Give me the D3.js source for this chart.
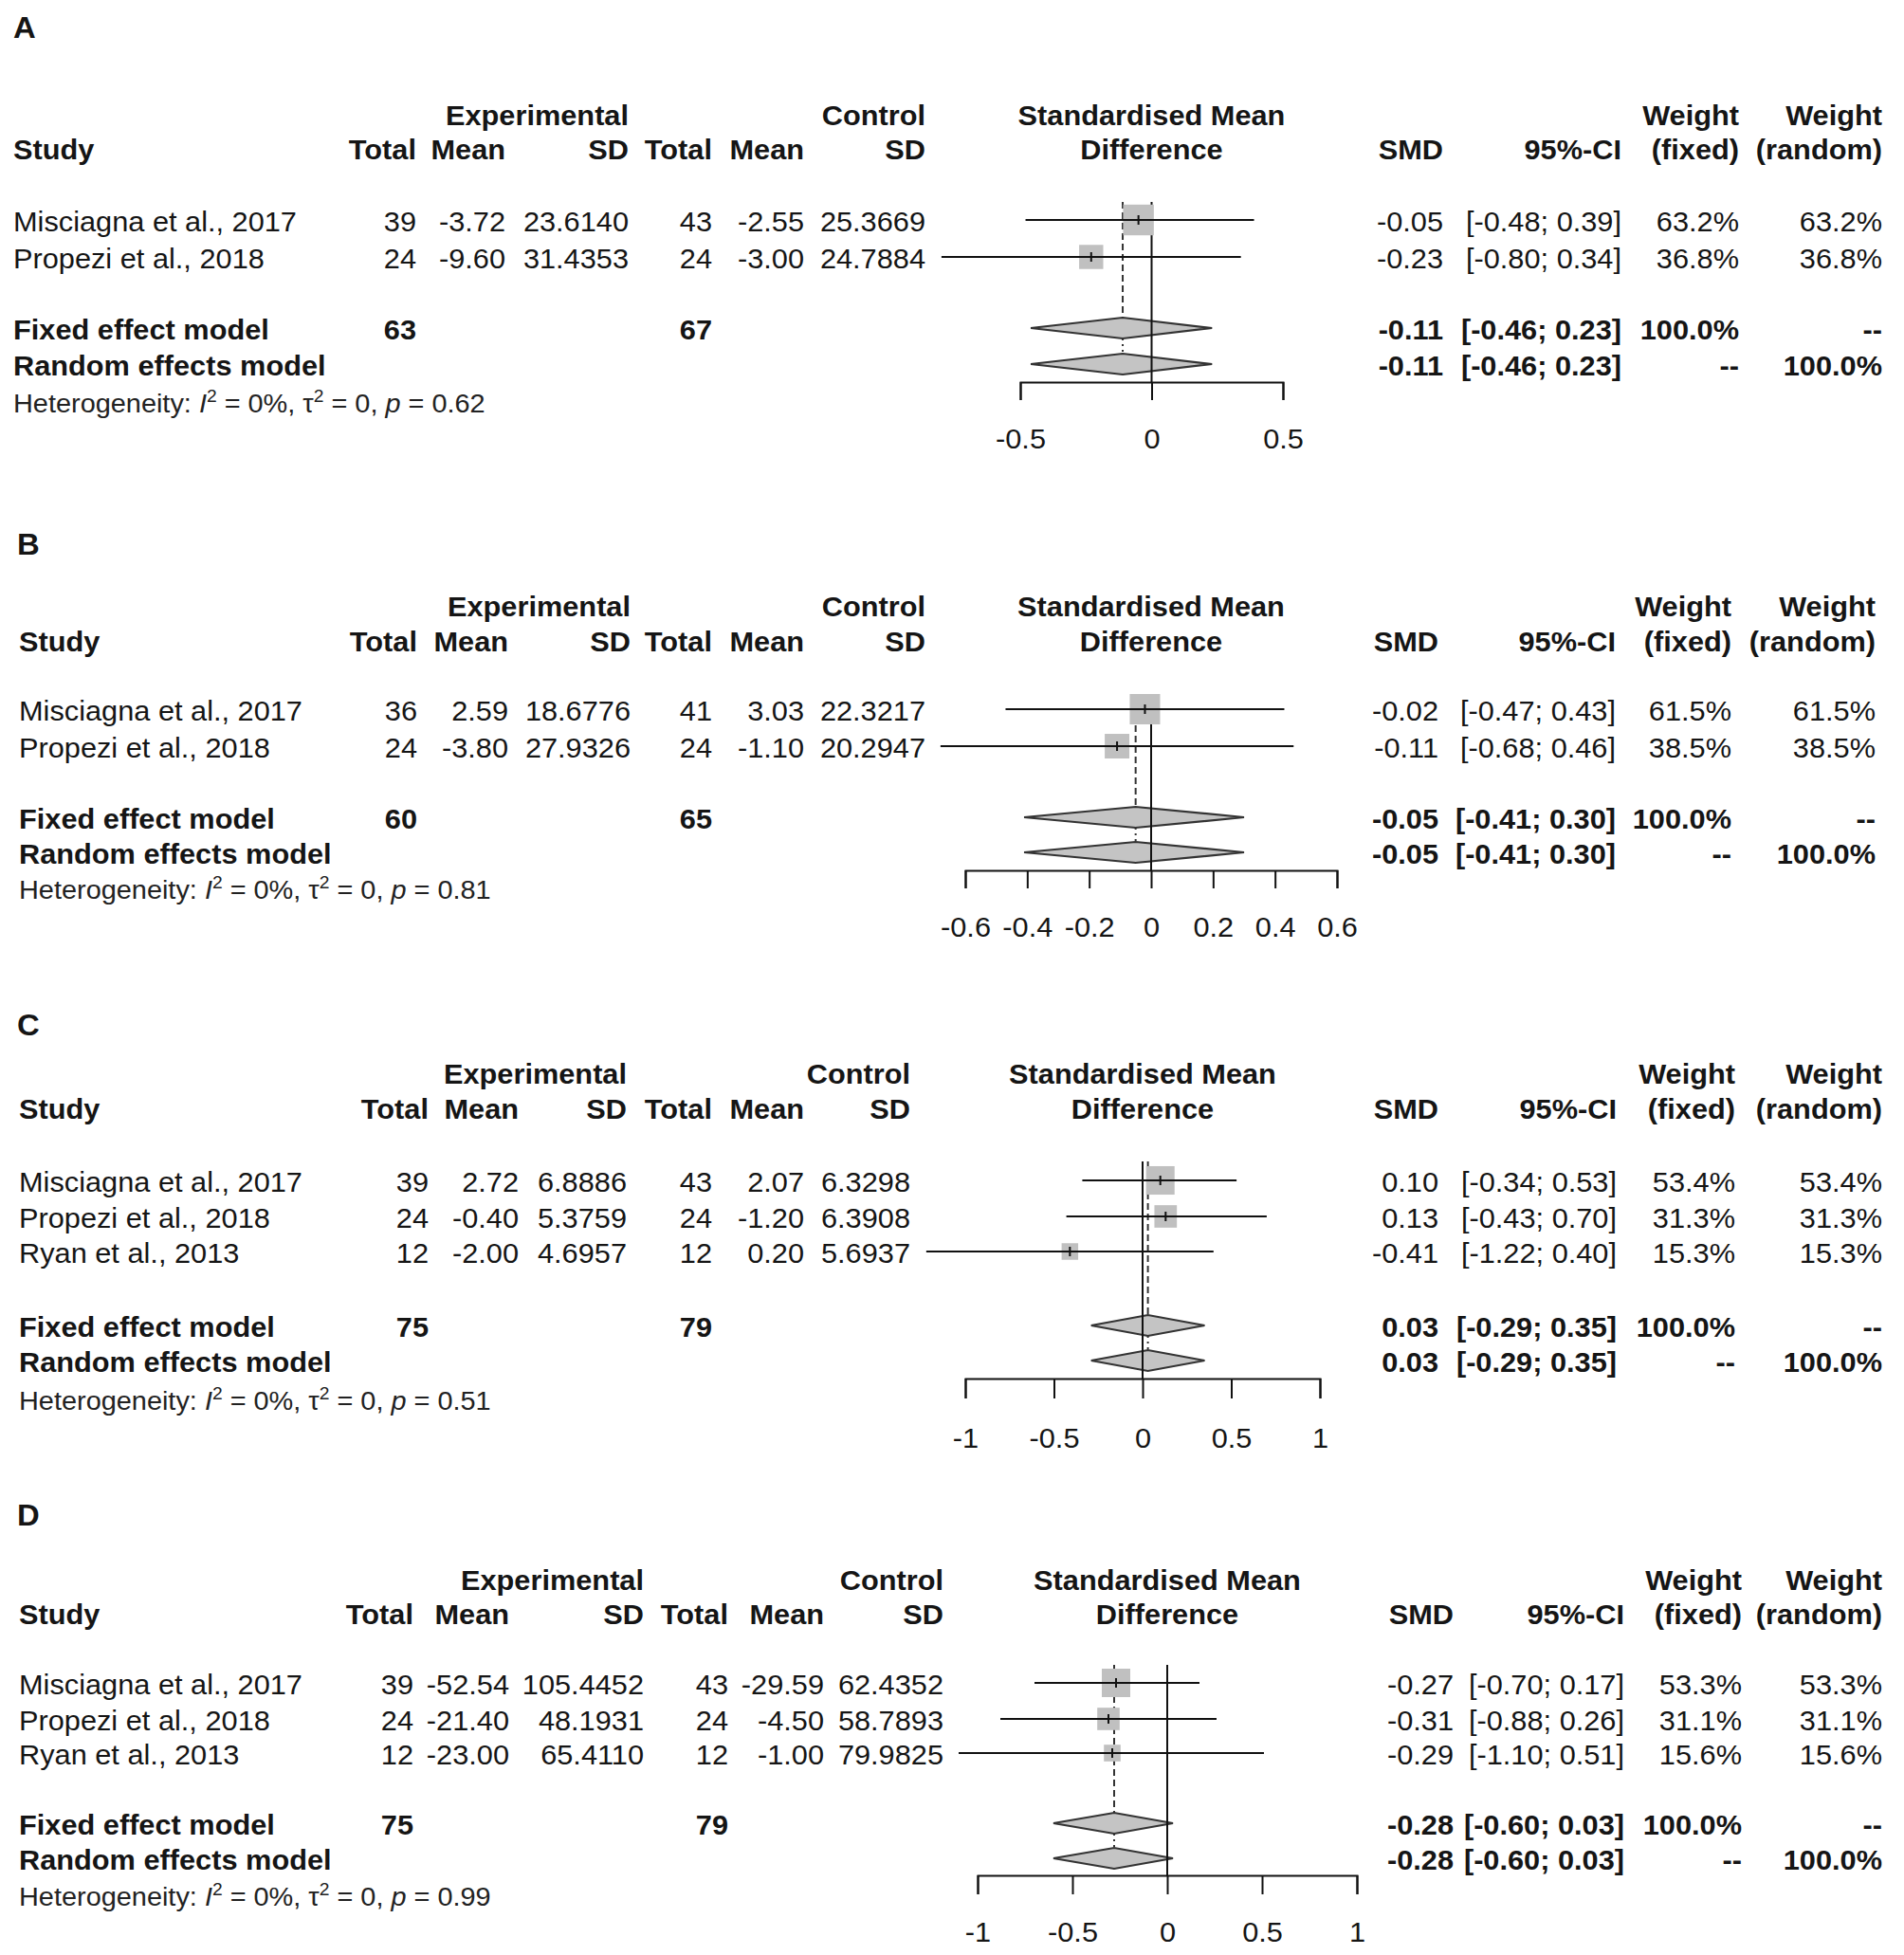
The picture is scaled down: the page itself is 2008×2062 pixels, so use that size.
<!DOCTYPE html>
<html><head><meta charset="utf-8">
<script src="https://cdn.jsdelivr.net/npm/d3@7"></script>
<style>html,body{margin:0;padding:0;background:#fff;} svg{display:block;}</style>
</head><body>
<svg id="chart" width="2008" height="2062"></svg>
<script>
// ================= DATA =================
const studies2 = ["Misciagna et al., 2017", "Propezi et al., 2018"];
const studies3 = ["Misciagna et al., 2017", "Propezi et al., 2018", "Ryan et al., 2013"];

// Panel A
const A_expTotal = [39, 24];
const A_expMean = [-3.72, -9.60];
const A_expSD = [23.6140, 31.4353];
const A_ctrlTotal = [43, 24];
const A_ctrlMean = [-2.55, -3.00];
const A_ctrlSD = [25.3669, 24.7884];
const A_smd = [-0.05, -0.23];
const A_ciLow = [-0.48, -0.80];
const A_ciHigh = [0.39, 0.34];
const A_wFixed = [63.2, 36.8];
const A_wRandom = [63.2, 36.8];
const A_pooled = [-0.11, -0.46, 0.23];
const A_totals = [63, 67];
const A_het = [0, 0, 0.62];
const A_ticks = [-0.5, 0, 0.5];
const A_domain = [-0.5, 0.5];

// Panel B
const B_expTotal = [36, 24];
const B_expMean = [2.59, -3.80];
const B_expSD = [18.6776, 27.9326];
const B_ctrlTotal = [41, 24];
const B_ctrlMean = [3.03, -1.10];
const B_ctrlSD = [22.3217, 20.2947];
const B_smd = [-0.02, -0.11];
const B_ciLow = [-0.47, -0.68];
const B_ciHigh = [0.43, 0.46];
const B_wFixed = [61.5, 38.5];
const B_wRandom = [61.5, 38.5];
const B_pooled = [-0.05, -0.41, 0.30];
const B_totals = [60, 65];
const B_het = [0, 0, 0.81];
const B_ticks = [-0.6, -0.4, -0.2, 0, 0.2, 0.4, 0.6];
const B_domain = [-0.6, 0.6];

// Panel C
const C_expTotal = [39, 24, 12];
const C_expMean = [2.72, -0.40, -2.00];
const C_expSD = [6.8886, 5.3759, 4.6957];
const C_ctrlTotal = [43, 24, 12];
const C_ctrlMean = [2.07, -1.20, 0.20];
const C_ctrlSD = [6.3298, 6.3908, 5.6937];
const C_smd = [0.10, 0.13, -0.41];
const C_ciLow = [-0.34, -0.43, -1.22];
const C_ciHigh = [0.53, 0.70, 0.40];
const C_wFixed = [53.4, 31.3, 15.3];
const C_wRandom = [53.4, 31.3, 15.3];
const C_pooled = [0.03, -0.29, 0.35];
const C_totals = [75, 79];
const C_het = [0, 0, 0.51];
const C_ticks = [-1, -0.5, 0, 0.5, 1];
const C_domain = [-1, 1];

// Panel D
const D_expTotal = [39, 24, 12];
const D_expMean = [-52.54, -21.40, -23.00];
const D_expSD = [105.4452, 48.1931, 65.4110];
const D_ctrlTotal = [43, 24, 12];
const D_ctrlMean = [-29.59, -4.50, -1.00];
const D_ctrlSD = [62.4352, 58.7893, 79.9825];
const D_smd = [-0.27, -0.31, -0.29];
const D_ciLow = [-0.70, -0.88, -1.10];
const D_ciHigh = [0.17, 0.26, 0.51];
const D_wFixed = [53.3, 31.1, 15.6];
const D_wRandom = [53.3, 31.1, 15.6];
const D_pooled = [-0.28, -0.60, 0.03];
const D_totals = [75, 79];
const D_het = [0, 0, 0.99];
const D_ticks = [-1, -0.5, 0, 0.5, 1];
const D_domain = [-1, 1];

// ================= ASSEMBLY =================
function mk(label, studies, eT, eM, eS, cT, cM, cS, smd, lo, hi, wF, wR, pooled, totals, het, ticks, domain) {
  return {label, studies, eT, eM, eS, cT, cM, cS, smd, lo, hi, wF, wR, pooled, totals, het, ticks, domain};
}
const panels = [
  mk("A", studies2, A_expTotal, A_expMean, A_expSD, A_ctrlTotal, A_ctrlMean, A_ctrlSD, A_smd, A_ciLow, A_ciHigh, A_wFixed, A_wRandom, A_pooled, A_totals, A_het, A_ticks, A_domain),
  mk("B", studies2, B_expTotal, B_expMean, B_expSD, B_ctrlTotal, B_ctrlMean, B_ctrlSD, B_smd, B_ciLow, B_ciHigh, B_wFixed, B_wRandom, B_pooled, B_totals, B_het, B_ticks, B_domain),
  mk("C", studies3, C_expTotal, C_expMean, C_expSD, C_ctrlTotal, C_ctrlMean, C_ctrlSD, C_smd, C_ciLow, C_ciHigh, C_wFixed, C_wRandom, C_pooled, C_totals, C_het, C_ticks, C_domain),
  mk("D", studies3, D_expTotal, D_expMean, D_expSD, D_ctrlTotal, D_ctrlMean, D_ctrlSD, D_smd, D_ciLow, D_ciHigh, D_wFixed, D_wRandom, D_pooled, D_totals, D_het, D_ticks, D_domain)
];

// ================= LAYOUT (positions, separate from data) =================
const layouts = [
  {label:[14,38], studyX:14, h1:132, h2:168, rows:[232,271], fixedY:346, randomY:384, hetY:435,
   cols:{eT:439, eM:533, eS:663, cT:751, cM:848, cS:976, smd:1522, ci:1710, wF:1834, wR:1985},
   range:[1076,1353], zeroTop:213, axisY:403, tick:19, pad:30},
  {label:[18,583], studyX:20, h1:650, h2:687, rows:[748,787], fixedY:862, randomY:899, hetY:948,
   cols:{eT:440, eM:536, eS:665, cT:751, cM:848, cS:976, smd:1517, ci:1704, wF:1826, wR:1978},
   range:[1018,1410], zeroTop:732, axisY:918, tick:19, pad:30},
  {label:[18,1090], studyX:20, h1:1143, h2:1180, rows:[1245,1283,1320], fixedY:1398, randomY:1435, hetY:1487,
   cols:{eT:452, eM:547, eS:661, cT:751, cM:848, cS:960, smd:1517, ci:1705, wF:1830, wR:1985},
   range:[1018,1392], zeroTop:1225, axisY:1454, tick:21, pad:31},
  {label:[18,1607], studyX:20, h1:1677, h2:1713, rows:[1775,1813,1849], fixedY:1923, randomY:1960, hetY:2010,
   cols:{eT:436, eM:537, eS:679, cT:768, cM:869, cS:995, smd:1533, ci:1713, wF:1837, wR:1985},
   range:[1031,1431], zeroTop:1756, axisY:1978, tick:20, pad:29}
];

const FONT = "'Liberation Sans', Arial, Helvetica, sans-serif";
const FS = 29, SX = 1.06, TXT = "#151515";
const loc = d3.formatLocale({decimal: ".", thousands: ",", grouping: [3], currency: ["", ""], minus: "-"});
const f1 = loc.format(".1f"), f2 = loc.format(".2f"), f4 = loc.format(".4f"), fT = loc.format("~g");

const svg = d3.select("#chart");
svg.append("rect").attr("width", 2008).attr("height", 2062).attr("fill", "#fff");

function txt(g, x, y, s, anchor, bold, size) {
  return g.append("text")
    .attr("transform", `translate(${x},${y}) scale(${SX},1)`)
    .attr("text-anchor", anchor || "start")
    .attr("font-family", FONT)
    .attr("font-size", size || FS)
    .attr("font-weight", bold ? "bold" : "normal")
    .attr("fill", TXT)
    .text(s);
}

const sq = d3.scaleSqrt().domain([0, 100]).range([3, 40]);

function drawPanel(p, L) {
  const g = svg.append("g");
  const x = d3.scaleLinear().domain(p.domain).range(L.range);
  const c = L.cols;
  const xc = x(0);

  txt(g, L.label[0], L.label[1] + 2, p.label, "start", true, 31);

  // headers
  txt(g, c.eS, L.h1, "Experimental", "end", true);
  txt(g, c.cS, L.h1, "Control", "end", true);
  txt(g, xc, L.h1, "Standardised Mean", "middle", true);
  txt(g, c.wF, L.h1, "Weight", "end", true);
  txt(g, c.wR, L.h1, "Weight", "end", true);
  txt(g, L.studyX, L.h2, "Study", "start", true);
  txt(g, c.eT, L.h2, "Total", "end", true);
  txt(g, c.eM, L.h2, "Mean", "end", true);
  txt(g, c.eS, L.h2, "SD", "end", true);
  txt(g, c.cT, L.h2, "Total", "end", true);
  txt(g, c.cM, L.h2, "Mean", "end", true);
  txt(g, c.cS, L.h2, "SD", "end", true);
  txt(g, xc, L.h2, "Difference", "middle", true);
  txt(g, c.smd, L.h2, "SMD", "end", true);
  txt(g, c.ci, L.h2, "95%-CI", "end", true);
  txt(g, c.wF, L.h2, "(fixed)", "end", true);
  txt(g, c.wR, L.h2, "(random)", "end", true);

  // study rows text
  p.studies.forEach((s, i) => {
    const yb = L.rows[i] + 12;
    txt(g, L.studyX, yb, s, "start");
    txt(g, c.eT, yb, p.eT[i], "end");
    txt(g, c.eM, yb, f2(p.eM[i]), "end");
    txt(g, c.eS, yb, f4(p.eS[i]), "end");
    txt(g, c.cT, yb, p.cT[i], "end");
    txt(g, c.cM, yb, f2(p.cM[i]), "end");
    txt(g, c.cS, yb, f4(p.cS[i]), "end");
    txt(g, c.smd, yb, f2(p.smd[i]), "end");
    txt(g, c.ci, yb, `[${f2(p.lo[i])}; ${f2(p.hi[i])}]`, "end");
    txt(g, c.wF, yb, f1(p.wF[i]) + "%", "end");
    txt(g, c.wR, yb, f1(p.wR[i]) + "%", "end");
  });

  const [est, plo, phi] = p.pooled;
  const ciStr = `[${f2(plo)}; ${f2(phi)}]`;
  const wFsum = d3.sum(p.wF), wRsum = d3.sum(p.wR);
  let yb = L.fixedY + 12;
  txt(g, L.studyX, yb, "Fixed effect model", "start", true);
  txt(g, c.eT, yb, p.totals[0], "end", true);
  txt(g, c.cT, yb, p.totals[1], "end", true);
  txt(g, c.smd, yb, f2(est), "end", true);
  txt(g, c.ci, yb, ciStr, "end", true);
  txt(g, c.wF, yb, f1(wFsum) + "%", "end", true);
  txt(g, c.wR, yb, "--", "end", true);
  yb = L.randomY + 12;
  txt(g, L.studyX, yb, "Random effects model", "start", true);
  txt(g, c.smd, yb, f2(est), "end", true);
  txt(g, c.ci, yb, ciStr, "end", true);
  txt(g, c.wF, yb, "--", "end", true);
  txt(g, c.wR, yb, f1(wRsum) + "%", "end", true);

  // heterogeneity
  const ht = g.append("text")
    .attr("transform", `translate(${L.studyX},${L.hetY}) scale(1.07,1)`)
    .attr("font-family", FONT).attr("font-size", 27).attr("fill", "#222");
  ht.append("tspan").text("Heterogeneity: ");
  ht.append("tspan").attr("font-style", "italic").text("I");
  ht.append("tspan").attr("font-size", 18).attr("dy", -11).text("2");
  ht.append("tspan").attr("dy", 11).text(` = ${p.het[0]}%, `);
  ht.append("tspan").text("τ");
  ht.append("tspan").attr("font-size", 18).attr("dy", -11).text("2");
  ht.append("tspan").attr("dy", 11).text(` = ${p.het[1]}, `);
  ht.append("tspan").attr("font-style", "italic").text("p");
  ht.append("tspan").text(` = ${f2(p.het[2])}`);

  // ---- graphics ----
  const h = 11;
  const line = d3.line();
  [L.fixedY, L.randomY].forEach(yy => {
    g.append("path")
      .attr("d", line([[x(plo), yy], [x(est), yy - h], [x(phi), yy], [x(est), yy + h]]) + "Z")
      .attr("fill", "#c4c4c4").attr("stroke", "#333").attr("stroke-width", 2.2);
  });

  // zero line
  g.append("line").attr("x1", x(0)).attr("x2", x(0)).attr("y1", L.zeroTop).attr("y2", L.axisY)
    .attr("stroke", "#111").attr("stroke-width", 2);
  // fixed effect (dashed) and random effect (dotted) lines
  g.append("line").attr("x1", x(est)).attr("x2", x(est)).attr("y1", L.zeroTop).attr("y2", L.fixedY - h)
    .attr("stroke", "#333").attr("stroke-width", 2).attr("stroke-dasharray", "7,4");
  g.append("line").attr("x1", x(est)).attr("x2", x(est)).attr("y1", L.fixedY + h).attr("y2", L.randomY - h)
    .attr("stroke", "#333").attr("stroke-width", 2).attr("stroke-dasharray", "2,4");

  p.studies.forEach((s, i) => {
    const yy = L.rows[i];
    const side = sq(p.wF[i]);
    g.append("rect").attr("x", x(p.smd[i]) - side / 2).attr("y", yy - side / 2)
      .attr("width", side).attr("height", side).attr("fill", "#c0c0c0");
    g.append("line").attr("x1", x(p.lo[i])).attr("x2", x(p.hi[i])).attr("y1", yy).attr("y2", yy)
      .attr("stroke", "#111").attr("stroke-width", 2);
    g.append("line").attr("x1", x(p.smd[i])).attr("x2", x(p.smd[i])).attr("y1", yy - 5).attr("y2", yy + 5)
      .attr("stroke", "#111").attr("stroke-width", 2);
  });

  // axis
  const axis = d3.axisBottom(x).tickValues(p.ticks).tickFormat(fT).tickSize(L.tick).tickPadding(L.pad);
  const ag = g.append("g").attr("transform", `translate(0,${L.axisY})`).call(axis);
  ag.select(".domain").attr("stroke", "#111").attr("stroke-width", 2);
  ag.selectAll(".tick line").attr("stroke", "#111").attr("stroke-width", 2);
  ag.selectAll(".tick text").attr("font-family", FONT).attr("font-size", FS).attr("fill", TXT)
    .attr("transform", `scale(${SX},1)`);
}

panels.forEach((p, i) => drawPanel(p, layouts[i]));
</script>
</body></html>
